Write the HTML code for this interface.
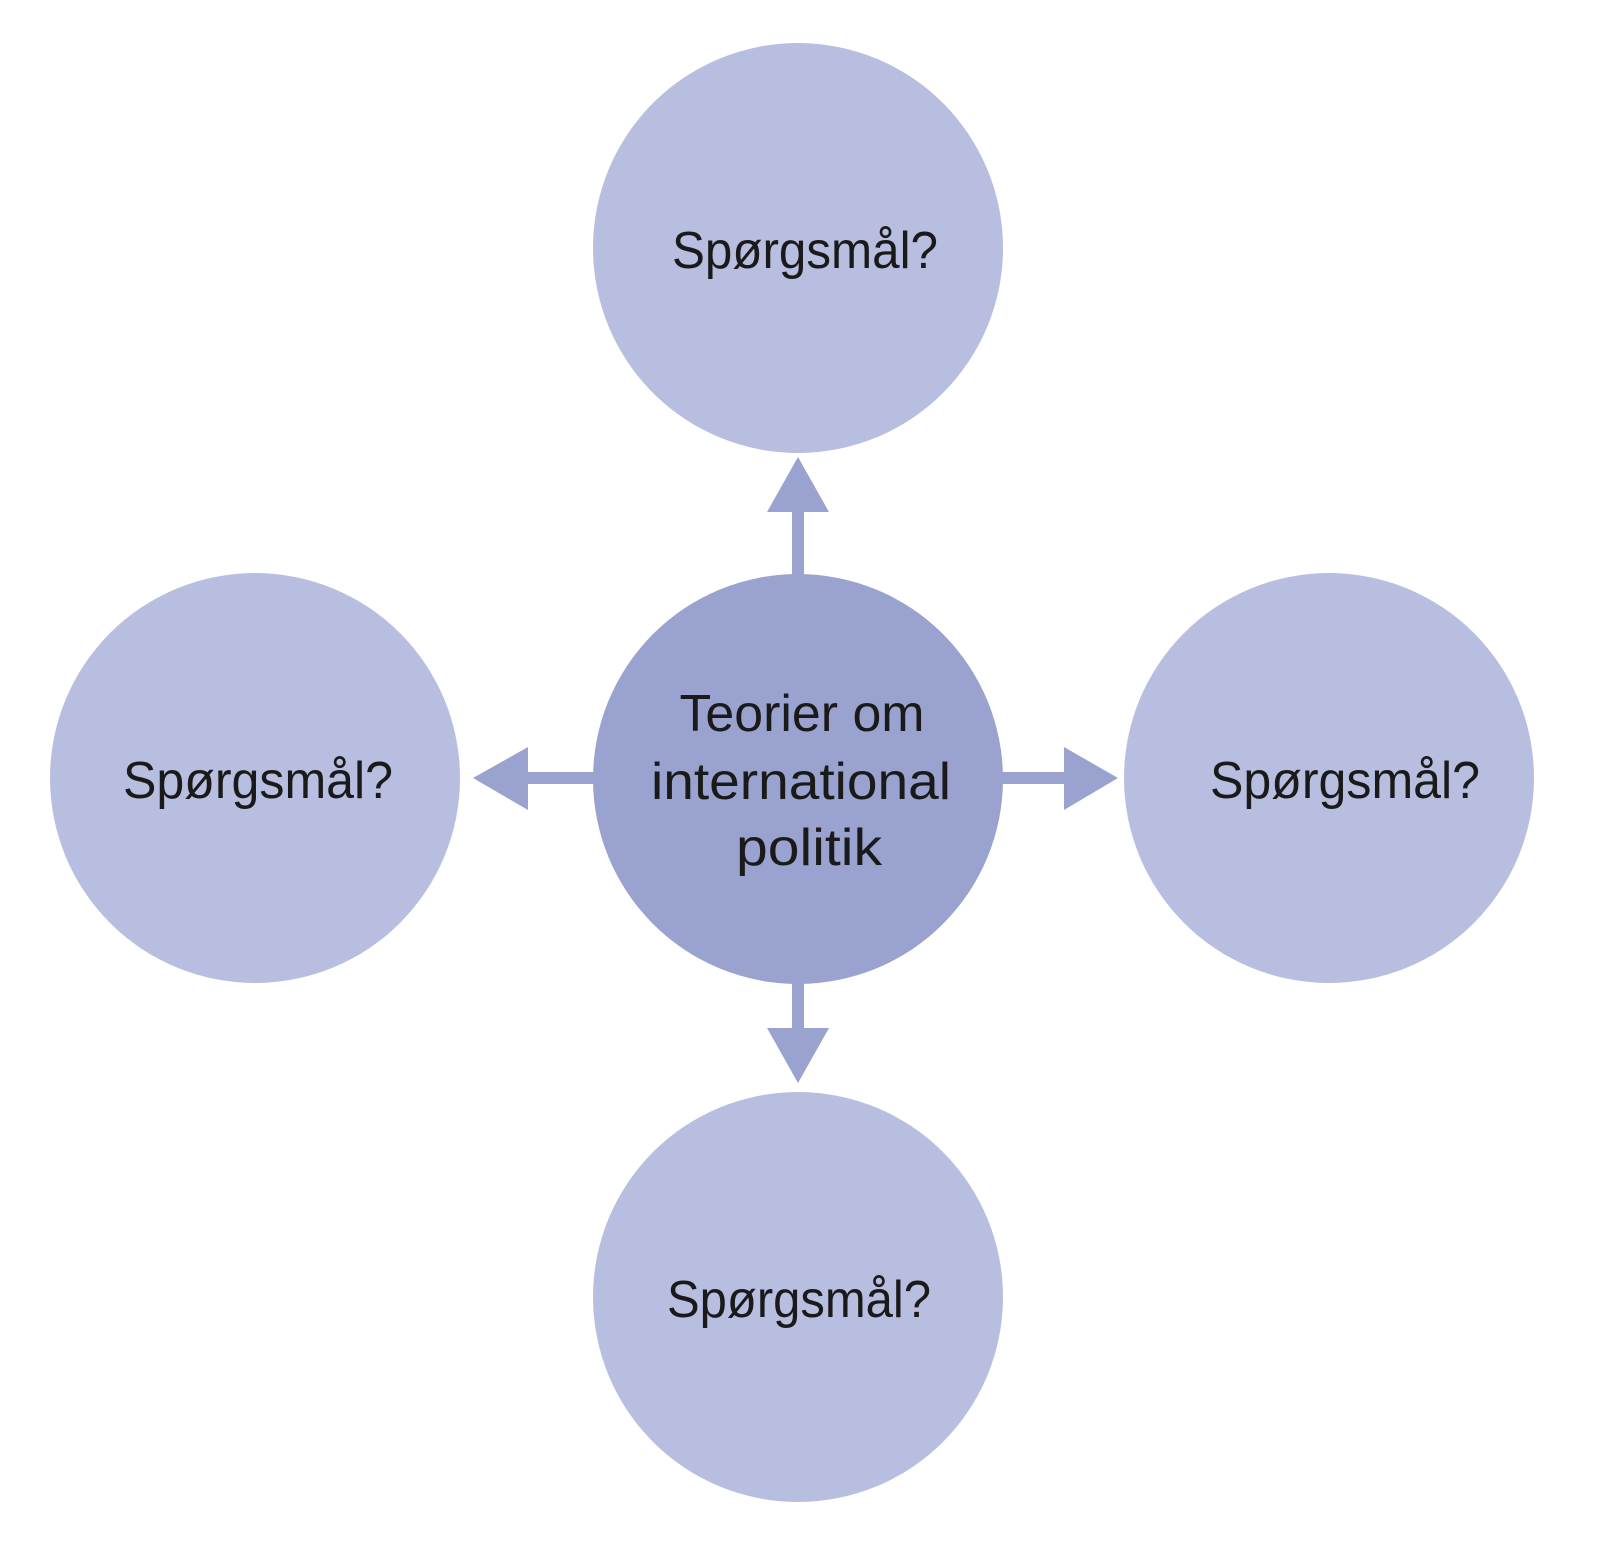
<!DOCTYPE html>
<html><head><meta charset="utf-8"><style>html,body{margin:0;padding:0;background:#fff}svg{display:block}</style></head>
<body>
<svg width="1600" height="1552" viewBox="0 0 1600 1552" xmlns="http://www.w3.org/2000/svg">
<rect width="1600" height="1552" fill="#fff"/>
<g fill="#b8bedf">
<circle cx="798" cy="248" r="205"/>
<circle cx="798" cy="1297" r="205"/>
<circle cx="255" cy="778" r="205"/>
<circle cx="1329" cy="778" r="205"/>
</g>
<g fill="#9aa3cf">
<circle cx="798" cy="779" r="205"/>
<rect x="792" y="508" width="12" height="70"/>
<polygon points="798,457 767,512 829,512"/>
<rect x="792" y="980" width="12" height="52"/>
<polygon points="798,1083 767,1028 829,1028"/>
<rect x="524" y="772" width="74" height="12"/>
<polygon points="473,778 528,747 528,810"/>
<rect x="998" y="772" width="70" height="12"/>
<polygon points="1118,778 1064,747 1064,810"/>
</g>
<g font-family="'Liberation Sans', 'DejaVu Sans', sans-serif" font-size="52" fill="#1a1a1a" text-anchor="middle">
<text x="805" y="268" textLength="266" lengthAdjust="spacingAndGlyphs">Spørgsmål?</text>
<text x="799" y="1317" textLength="264" lengthAdjust="spacingAndGlyphs">Spørgsmål?</text>
<text x="258" y="798" textLength="270" lengthAdjust="spacingAndGlyphs">Spørgsmål?</text>
<text x="1345" y="798" textLength="270" lengthAdjust="spacingAndGlyphs">Spørgsmål?</text>
<text x="802" y="731" textLength="245" lengthAdjust="spacingAndGlyphs">Teorier om</text>
<text x="801" y="799" textLength="300" lengthAdjust="spacingAndGlyphs">international</text>
<text x="809" y="865" textLength="146" lengthAdjust="spacingAndGlyphs">politik</text>
</g>
</svg>
</body></html>
